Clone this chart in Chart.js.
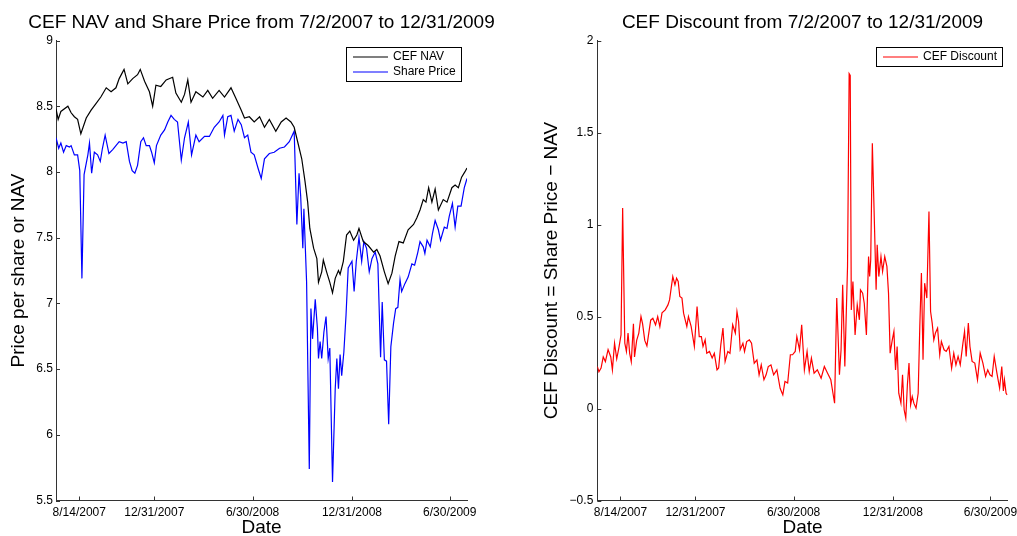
<!DOCTYPE html>
<html>
<head>
<meta charset="utf-8">
<script src="https://cdn.jsdelivr.net/npm/chart.js@4.4.1/dist/chart.umd.min.js"></script>
<style>
  html, body { margin: 0; padding: 0; background: #fff; overflow: hidden; }
  .panel { position: absolute; top: 0; height: 536px; }
  #leftWrap { left: 0; width: 523px; }
  #rightWrap { left: 510px; width: 507px; }
</style>
</head>
<body>
<div class="panel" id="leftWrap"><canvas id="navChart"></canvas></div>
<div class="panel" id="rightWrap"><canvas id="discChart"></canvas></div>
<script>
// x values are calendar days counted from 7/2/2007
const tickDays = [43, 182, 364, 548, 729];
const tickLabels = ['8/14/2007', '12/31/2007', '6/30/2008', '12/31/2008', '6/30/2009'];
const navTicks = [5.5, 6, 6.5, 7, 7.5, 8, 8.5, 9];
const discTicks = [-0.5, 0, 0.5, 1, 1.5, 2];

const navDays = [0,4,9,22,28,34,40,46,56,65,74,83,93,102,111,117,126,133,142,151,156,164,173,179,185,194,204,216,222,232,238,244,250,259,272,281,290,302,312,324,333,343,349,358,367,377,386,395,407,417,426,435,441,448,455,461,466,470,477,483,486,492,495,501,507,512,517,523,526,532,538,544,551,557,561,569,578,588,594,600,608,615,622,628,635,643,652,662,668,674,680,685,690,696,702,708,717,724,733,739,745,751,757,761];
const navValues = [8.48,8.40,8.46,8.50,8.45,8.42,8.40,8.29,8.41,8.47,8.52,8.57,8.64,8.61,8.64,8.71,8.78,8.67,8.71,8.74,8.78,8.69,8.61,8.50,8.66,8.65,8.70,8.72,8.60,8.53,8.59,8.70,8.53,8.61,8.57,8.62,8.56,8.62,8.57,8.64,8.56,8.47,8.41,8.42,8.38,8.42,8.34,8.40,8.31,8.38,8.41,8.38,8.34,8.22,8.10,7.93,7.77,7.57,7.42,7.34,7.16,7.24,7.33,7.24,7.16,7.08,7.19,7.25,7.22,7.32,7.52,7.55,7.48,7.52,7.57,7.47,7.44,7.39,7.41,7.36,7.24,7.15,7.23,7.36,7.47,7.46,7.56,7.60,7.65,7.71,7.79,7.77,7.88,7.77,7.87,7.71,7.79,7.77,7.88,7.90,7.88,7.96,8.00,8.03];

const priceDays = [0,5,9,14,19,25,28,34,40,44,48,52,59,62,66,71,77,82,86,91,98,105,111,117,124,130,136,141,146,151,157,162,167,173,177,182,186,194,201,207,213,219,225,232,238,245,251,259,265,275,284,293,302,309,312,318,324,330,337,343,349,355,361,367,374,380,386,395,404,414,423,432,441,446,450,453,457,459,464,469,472,475,480,484,486,489,492,496,500,504,507,512,517,520,523,526,529,533,537,541,548,552,556,561,566,570,575,580,585,591,596,601,604,608,612,616,620,625,629,633,637,640,646,652,659,664,670,674,680,683,687,693,697,702,708,712,719,724,728,734,739,744,750,756,761];
const priceValues = [8.26,8.18,8.22,8.15,8.20,8.19,8.20,8.13,8.13,8.01,7.19,7.98,8.13,8.22,7.99,8.15,8.13,8.08,8.18,8.28,8.14,8.17,8.20,8.23,8.22,8.23,8.08,8.01,7.99,8.05,8.23,8.26,8.20,8.20,8.15,8.07,8.20,8.28,8.32,8.38,8.43,8.40,8.38,8.09,8.26,8.38,8.13,8.28,8.23,8.27,8.27,8.34,8.38,8.43,8.28,8.42,8.43,8.31,8.40,8.36,8.26,8.28,8.15,8.13,8.03,7.95,8.10,8.14,8.15,8.18,8.19,8.23,8.31,7.60,7.99,7.82,7.42,7.72,7.16,5.74,6.96,6.73,7.03,6.81,6.58,6.71,6.58,6.78,6.90,6.58,6.66,5.64,6.35,6.58,6.35,6.61,6.45,6.63,6.91,7.27,7.32,7.09,7.32,7.50,7.32,7.47,7.42,7.24,7.34,7.39,7.30,6.59,7.01,6.57,6.56,6.08,6.67,6.85,6.96,6.97,7.18,7.09,7.15,7.20,7.30,7.29,7.39,7.47,7.43,7.38,7.48,7.43,7.53,7.63,7.56,7.48,7.58,7.57,7.66,7.76,7.58,7.74,7.74,7.88,7.95];

const discDays = [0,3,7,11,15,20,25,28,32,36,40,44,47,51,54,57,60,63,67,69,73,77,81,84,88,92,99,103,108,112,116,120,126,131,134,137,140,144,147,150,153,157,160,163,166,169,174,180,185,189,193,196,200,203,208,213,217,222,225,229,233,237,242,246,251,256,259,262,265,270,273,277,282,286,291,296,300,304,309,313,317,322,327,333,339,344,348,353,358,362,367,370,375,379,384,389,393,397,402,408,415,421,427,433,437,440,444,449,452,455,459,464,467,469,471,474,478,482,486,488,492,495,499,503,505,507,510,514,517,519,522,526,529,533,537,540,543,547,550,553,556,559,563,566,569,572,575,578,581,584,587,591,595,598,601,604,607,611,615,618,621,624,627,631,635,638,643,647,652,657,661,665,669,673,678,681,684,688,691,695,700,705,710,715,720,724,728,732,736,741,746,750,753,755,758,760];
const discValues = [0.228,0.20,0.22,0.28,0.255,0.32,0.28,0.21,0.355,0.27,0.33,0.40,1.09,0.355,0.31,0.41,0.30,0.255,0.46,0.28,0.37,0.41,0.50,0.46,0.37,0.34,0.48,0.49,0.455,0.50,0.445,0.52,0.536,0.563,0.59,0.654,0.717,0.672,0.708,0.69,0.609,0.60,0.518,0.482,0.446,0.50,0.446,0.337,0.554,0.391,0.391,0.337,0.373,0.30,0.31,0.274,0.30,0.21,0.22,0.346,0.437,0.255,0.31,0.30,0.455,0.41,0.527,0.473,0.32,0.355,0.31,0.364,0.373,0.355,0.246,0.264,0.183,0.237,0.156,0.183,0.228,0.237,0.183,0.21,0.11,0.074,0.147,0.138,0.292,0.292,0.31,0.391,0.319,0.455,0.21,0.31,0.201,0.274,0.192,0.21,0.165,0.228,0.192,0.156,0.083,0.029,0.60,0.183,0.319,0.672,0.228,0.772,1.82,1.81,0.536,0.69,0.40,0.563,0.482,0.645,0.627,0.572,0.40,0.826,0.717,0.808,1.442,0.989,0.645,0.89,0.717,0.826,0.745,0.826,0.772,0.627,0.301,0.373,0.419,0.21,0.337,0.083,0.029,0.183,-0.007,-0.052,0.129,0.247,0.02,0.065,0.029,0.002,0.083,0.446,0.736,0.265,0.681,0.60,1.071,0.527,0.464,0.373,0.41,0.437,0.292,0.364,0.319,0.31,0.337,0.219,0.301,0.237,0.283,0.237,0.355,0.419,0.283,0.464,0.337,0.256,0.247,0.156,0.301,0.247,0.174,0.21,0.183,0.174,0.283,0.192,0.11,0.228,0.096,0.156,0.083,0.074];

const fontFamily = '"Liberation Sans", Arial, Helvetica, sans-serif';
const axisColor = '#333333';
const tickFont = { family: fontFamily, size: 12 };
const labelFont = { family: fontFamily, size: 19, lineHeight: 1 };

function toPoints(days, values) {
    return days.map(function (d, i) { return { x: d, y: values[i] }; });
}

// matlab style: short tick marks pointing into the axes
const inwardTicks = {
    id: 'inwardTicks',
    afterDraw(chart) {
        const { ctx, chartArea: a, scales: { x, y } } = chart;
        ctx.save();
        ctx.strokeStyle = axisColor;
        ctx.lineWidth = 1;
        ctx.beginPath();
        x.ticks.forEach(function (t) {
            const px = Math.round(x.getPixelForValue(t.value)) + 0.5;
            ctx.moveTo(px, a.bottom);
            ctx.lineTo(px, a.bottom - 4);
        });
        y.ticks.forEach(function (t) {
            const py = Math.round(y.getPixelForValue(t.value)) + 0.5;
            ctx.moveTo(a.left, py);
            ctx.lineTo(a.left + 4, py);
        });
        ctx.stroke();
        ctx.restore();
    }
};

// boxed legend in the top right corner of the plot
const boxLegend = {
    id: 'boxLegend',
    afterDraw(chart) {
        const { ctx, chartArea: a } = chart;
        const sets = chart.data.datasets;
        ctx.save();
        ctx.font = '12px ' + fontFamily;
        const textW = Math.max.apply(null, sets.map(function (d) { return ctx.measureText(d.label).width; }));
        const w = Math.round(47 + textW + 5);
        const h = 19 + 15 * (sets.length - 1);
        const bx = Math.round(a.right - 6 - w);
        const by = Math.round(a.top + 6);
        ctx.fillStyle = '#fff';
        ctx.fillRect(bx, by, w, h);
        ctx.strokeStyle = '#000';
        ctx.lineWidth = 1;
        ctx.strokeRect(bx + 0.5, by + 0.5, w, h);
        sets.forEach(function (d, i) {
            const cy = by + 10 + 15 * i;
            ctx.strokeStyle = d.borderColor;
            ctx.lineWidth = 1.2;
            ctx.beginPath();
            ctx.moveTo(bx + 7, cy);
            ctx.lineTo(bx + 42, cy);
            ctx.stroke();
            ctx.fillStyle = '#000';
            ctx.textAlign = 'left';
            ctx.textBaseline = 'middle';
            ctx.fillText(d.label, bx + 47, cy);
        });
        ctx.restore();
    }
};

function xScale() {
    return {
        type: 'linear',
        min: 0,
        max: 761,
        afterBuildTicks: function (s) { s.ticks = tickDays.map(function (v) { return { value: v }; }); },
        afterFit: function (s) { s.height = 35.5; s.paddingLeft = 0; s.paddingRight = 0; },
        ticks: {
            autoSkip: false,
            maxRotation: 0,
            padding: 4.5,
            font: tickFont,
            color: '#000',
            callback: function (v, i) { return tickLabels[i]; }
        },
        grid: { drawOnChartArea: false, drawTicks: false, color: axisColor },
        border: { color: axisColor, width: 1 },
        title: { display: true, text: 'Date', font: labelFont, color: '#000', padding: { top: 0, bottom: -1.5 } }
    };
}

function yScale(min, max, tickList, width, pad, titleText, titlePad) {
    return {
        min: min,
        max: max,
        afterBuildTicks: function (s) { s.ticks = tickList.map(function (v) { return { value: v }; }); },
        afterFit: function (s) { s.width = width; s.paddingTop = 0; s.paddingBottom = 0; },
        ticks: {
            padding: pad,
            font: tickFont,
            color: '#000',
            callback: function (v) { return v < 0 ? '\u2212' + Math.abs(v) : String(v); }
        },
        grid: { drawOnChartArea: false, drawTicks: false, color: axisColor },
        border: { color: axisColor, width: 1 },
        title: { display: true, text: titleText, font: labelFont, color: '#000', padding: { top: titlePad, bottom: 0 } }
    };
}

// empty axis on the right, only used to reserve blank space beside the plot
function spacerScale(width) {
    return {
        position: 'right',
        afterFit: function (s) { s.width = width; s.paddingTop = 0; s.paddingBottom = 0; },
        ticks: { display: false },
        grid: { display: false, drawTicks: false },
        border: { display: false }
    };
}

function chartTitle(text, fullSize) {
    return {
        display: true,
        text: text,
        fullSize: fullSize,
        color: '#000',
        font: { family: fontFamily, size: 19, weight: 'normal', lineHeight: 1.2 },
        padding: { top: 11.5, bottom: 6.2 }
    };
}

const lineStyle = { pointRadius: 0, borderWidth: 1.2, tension: 0, fill: false };

const navChart = document.getElementById('navChart');
if (navChart) {
    new Chart(navChart, {
        type: 'line',
        data: {
            datasets: [
                Object.assign({ label: 'CEF NAV', data: toPoints(navDays, navValues), borderColor: '#000000', yAxisID: 'y' }, lineStyle),
                Object.assign({ label: 'Share Price', data: toPoints(priceDays, priceValues), borderColor: '#0000ff', yAxisID: 'y' }, lineStyle)
            ]
        },
        options: {
            responsive: true,
            maintainAspectRatio: false,
            animation: false,
            layout: { padding: 0 },
            plugins: {
                legend: { display: false },
                tooltip: { enabled: false },
                title: chartTitle('CEF NAV and Share Price from 7/2/2007 to 12/31/2009', true)
            },
            scales: {
                x: xScale(),
                y: yScale(5.5, 9, navTicks, 56, 3, 'Price per share or NAV', 9),
                spacer: spacerScale(56)
            }
        },
        plugins: [inwardTicks, boxLegend]
    });
}

const discChart = document.getElementById('discChart');
if (discChart) {
    new Chart(discChart, {
        type: 'line',
        data: {
            datasets: [
                Object.assign({ label: 'CEF Discount', data: toPoints(discDays, discValues), borderColor: '#ff0000' }, lineStyle)
            ]
        },
        options: {
            responsive: true,
            maintainAspectRatio: false,
            animation: false,
            layout: { padding: { left: 0, right: 9.3, top: 0, bottom: 0 } },
            plugins: {
                legend: { display: false },
                tooltip: { enabled: false },
                title: chartTitle('CEF Discount from 7/2/2007 to 12/31/2009', false)
            },
            scales: {
                x: xScale(),
                y: yScale(-0.5, 2, discTicks, 87.3, 4, 'CEF Discount = Share Price \u2212 NAV', 32.5)
            }
        },
        plugins: [inwardTicks, boxLegend]
    });
}
</script>
</body>
</html>
